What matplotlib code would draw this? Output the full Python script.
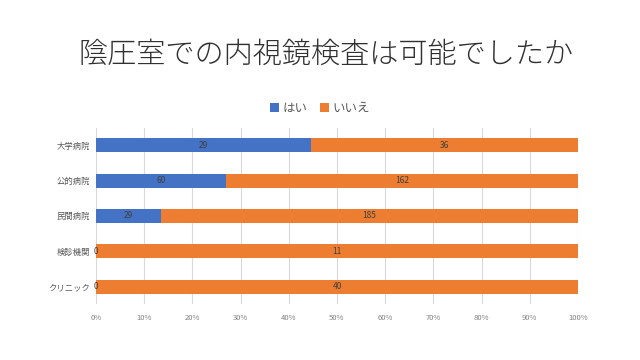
import numpy as np
import matplotlib.pyplot as plt
from matplotlib.ticker import PercentFormatter

plt.rcParams['font.family'] = ['Noto Sans CJK JP', 'DejaVu Sans']

categories = ["大学病院", "公的病院", "民間病院", "検診機関", "クリニック"]
yes_vals = np.array([29, 60, 29, 0, 0])
no_vals = np.array([36, 162, 185, 11, 40])

total = yes_vals + no_vals
yes_pct = yes_vals / total
no_pct = no_vals / total

blue = "#4472C4"
orange = "#ED7D31"
grey = "#595959"

fig = plt.figure(figsize=(6.4, 3.6), dpi=100)
ax = fig.add_axes([0.15, 0.155, 0.753, 0.49])

y = np.arange(len(categories))
b1 = ax.barh(y, yes_pct, height=0.4, color=blue, label="はい")
b2 = ax.barh(y, no_pct, left=yes_pct, height=0.4, color=orange, label="いいえ")

for i in range(len(categories)):
    ax.text(yes_pct[i] / 2, y[i], str(yes_vals[i]), ha='center', va='center',
            fontsize=6, color="#404040")
    ax.text(yes_pct[i] + no_pct[i] / 2, y[i], str(no_vals[i]), ha='center', va='center',
            fontsize=6, color="#404040")

ax.set_xlim(0, 1)
ax.set_ylim(len(categories) - 0.5, -0.5)
ax.set_yticks(y)
ax.set_yticklabels(categories, fontsize=6, color=grey)
ax.set_xticks(np.linspace(0, 1, 11))
ax.xaxis.set_major_formatter(PercentFormatter(1.0, decimals=0))
ax.tick_params(axis='x', labelsize=5.5, colors="#808080", length=0, pad=7)
ax.tick_params(axis='y', length=0, pad=4)
ax.grid(axis='x', color="#D9D9D9", linewidth=0.8)
ax.set_axisbelow(True)
for s in ax.spines.values():
    s.set_visible(False)

fig.text(0.51, 0.848, "陰圧室での内視鏡検査は可能でしたか", ha='center', va='center',
         fontsize=21, color="#303030", fontweight='light')
fig.legend(handles=[b1, b2], loc='center', bbox_to_anchor=(0.5, 0.7), ncol=2,
           frameon=False, fontsize=9, handlelength=0.7, handleheight=0.7,
           columnspacing=1.0, handletextpad=0.3, labelcolor=grey)

fig.savefig("out.png", dpi=100)
